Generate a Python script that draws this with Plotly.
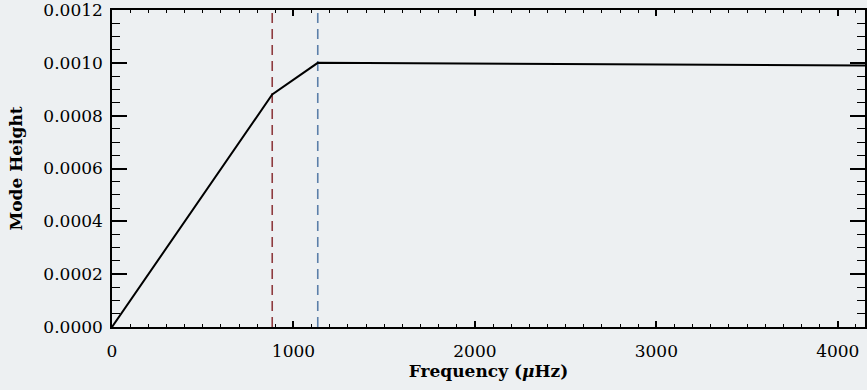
import plotly.graph_objects as go

# Mode height profile versus frequency
freq = [0, 883, 1134, 4150]
mode_height = [0.0, 0.00088, 0.00100, 0.00099]

# Characteristic frequencies marked by dashed verticals
nu_lower = 883
nu_upper = 1134

# Axis ticks
x_ticks = [0, 1000, 2000, 3000, 4000]
y_ticks = [0.0, 0.0002, 0.0004, 0.0006, 0.0008, 0.0010, 0.0012]
y_tick_text = ["0.0000", "0.0002", "0.0004", "0.0006", "0.0008", "0.0010", "0.0012"]

y_range = [0.0, 0.0012]
x_range = [0, 4150]

bg = "#edf0f2"
tick_font = dict(family="DejaVu Serif", size=17, color="#000")
title_font = dict(family="DejaVu Serif", size=17, color="#000", weight="bold")

fig = go.Figure()

fig.add_trace(go.Scatter(
    x=[nu_lower, nu_lower], y=y_range, mode="lines",
    line=dict(color="#8e3b3f", width=1.6, dash="10px,6px"),
    hoverinfo="skip", showlegend=False,
))
fig.add_trace(go.Scatter(
    x=[nu_upper, nu_upper], y=y_range, mode="lines",
    line=dict(color="#5b7fa9", width=1.6, dash="10px,6px"),
    hoverinfo="skip", showlegend=False,
))
fig.add_trace(go.Scatter(
    x=freq, y=mode_height, mode="lines",
    line=dict(color="#000", width=2),
    showlegend=False,
))

fig.update_layout(
    width=867, height=390,
    margin=dict(l=112, r=0, t=8, b=63),
    paper_bgcolor=bg, plot_bgcolor=bg,
)

fig.update_xaxes(
    range=x_range, tickvals=x_ticks, ticktext=[str(v) for v in x_ticks],
    showgrid=False, zeroline=False,
    showline=True, linecolor="#000", linewidth=1.5, mirror="ticks",
    ticks="inside", ticklen=6, tickwidth=1.5, tickcolor="#000",
    minor=dict(dtick=100, tick0=0, ticks="inside", ticklen=3, tickwidth=1.2, tickcolor="#000", showgrid=False),
    tickfont=tick_font, ticklabelstandoff=8, ticklabeloverflow="allow",
    title=dict(text="Frequency (<i>μ</i>Hz)", font=title_font, standoff=2),
)
fig.update_yaxes(
    range=y_range, tickvals=y_ticks, ticktext=y_tick_text,
    showgrid=False, zeroline=False,
    showline=True, linecolor="#000", linewidth=1.5, mirror="ticks",
    ticks="inside", ticklen=15, tickwidth=1.5, tickcolor="#000",
    minor=dict(dtick=0.00005, tick0=0, ticks="inside", ticklen=8, tickwidth=1.2, tickcolor="#000", showgrid=False),
    tickfont=tick_font, ticklabelstandoff=4, ticklabeloverflow="allow",
    title=dict(text="Mode Height", font=title_font, standoff=16),
)

fig.write_html("out.html")
